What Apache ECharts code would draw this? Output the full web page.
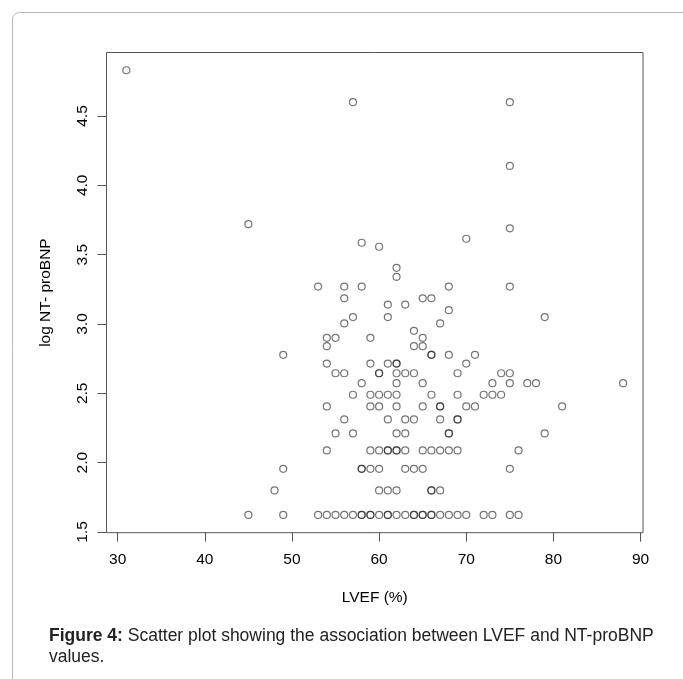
<!DOCTYPE html>
<html>
<head>
<meta charset="utf-8">
<title>LVEF vs NT-proBNP</title>
<script src="https://cdn.jsdelivr.net/npm/echarts@6/dist/echarts.min.js"></script>
<style>
    html, body {margin: 0; padding: 0; background: #fff;}
    #main {width: 683px; height: 679px;}
</style>
</head>
<body>
<div id="main"></div>
<script>
    // LVEF (%) of each patient (top to bottom)
    var lvef = [
        31,
        57, 75,
        75,
        45,
        75,
        70,
        58,
        60,
        62,
        62,
        53, 56, 58, 68, 75,
        56, 65, 66,
        61, 63,
        68,
        57, 61, 79,
        56, 67,
        64,
        54, 55, 59, 65,
        54, 64, 65,
        49, 66, 66, 68, 71,
        54, 59, 61, 62, 62, 70,
        55, 56, 60, 60, 62, 63, 64, 69, 74, 75,
        58, 62, 65, 73, 75, 77, 78, 88,
        57, 59, 60, 61, 62, 66, 69, 72, 73, 74,
        54, 59, 60, 62, 65, 67, 67, 70, 71, 81,
        56, 61, 63, 64, 67, 69, 69,
        55, 57, 62, 63, 68, 68, 79,
        54, 59, 60, 61, 61, 62, 62, 63, 65, 66, 67, 68, 69, 76,
        49, 58, 58, 59, 60, 63, 64, 65, 75,
        48, 60, 61, 62, 66, 66, 67,
        45, 49, 53, 54, 55, 56, 57, 58, 58, 59, 59, 60, 61, 61, 62, 63, 64, 64, 65, 65, 66, 66, 67, 68, 69, 70, 72, 73, 75, 76
    ];
    // log NT-proBNP of the same patients, same order
    var logNtProBnp = [
        4.83,
        4.60, 4.60,
        4.14,
        3.72,
        3.69,
        3.615,
        3.586,
        3.557,
        3.405,
        3.34,
        3.27, 3.27, 3.27, 3.27, 3.27,
        3.185, 3.185, 3.185,
        3.14, 3.14,
        3.10,
        3.05, 3.05, 3.05,
        3.004, 3.004,
        2.951,
        2.90, 2.90, 2.90, 2.90,
        2.84, 2.84, 2.84,
        2.778, 2.778, 2.778, 2.778, 2.778,
        2.715, 2.715, 2.715, 2.715, 2.715, 2.715,
        2.645, 2.645, 2.645, 2.645, 2.645, 2.645, 2.645, 2.645, 2.645, 2.645,
        2.573, 2.573, 2.573, 2.573, 2.573, 2.573, 2.573, 2.573,
        2.49, 2.49, 2.49, 2.49, 2.49, 2.49, 2.49, 2.49, 2.49, 2.49,
        2.406, 2.406, 2.406, 2.406, 2.406, 2.406, 2.406, 2.406, 2.406, 2.406,
        2.312, 2.312, 2.312, 2.312, 2.312, 2.312, 2.312,
        2.211, 2.211, 2.211, 2.211, 2.211, 2.211, 2.211,
        2.088, 2.088, 2.088, 2.088, 2.088, 2.088, 2.088, 2.088, 2.088, 2.088, 2.088, 2.088, 2.088, 2.088,
        1.956, 1.956, 1.956, 1.956, 1.956, 1.956, 1.956, 1.956, 1.956,
        1.80, 1.80, 1.80, 1.80, 1.80, 1.80, 1.80,
        1.623, 1.623, 1.623, 1.623, 1.623, 1.623, 1.623, 1.623, 1.623, 1.623,
        1.623, 1.623, 1.623, 1.623, 1.623, 1.623, 1.623, 1.623, 1.623, 1.623,
        1.623, 1.623, 1.623, 1.623, 1.623, 1.623, 1.623, 1.623, 1.623, 1.623
    ];
    var xTicks = [30, 40, 50, 60, 70, 80, 90];
    var yTicks = [1.5, 2.0, 2.5, 3.0, 3.5, 4.0, 4.5];

    var font = 'Liberation Sans, Arial, Helvetica, sans-serif';

    var chart = echarts.init(document.getElementById('main'));
    chart.setOption({
        animation: false,
        backgroundColor: '#fff',
        graphic: [
            {
                type: 'rect',
                shape: {x: 12.5, y: 12.5, width: 760, height: 760, r: 7},
                style: {fill: 'none', stroke: '#b8b8b8', lineWidth: 1}
            },
            {
                type: 'text',
                left: 49,
                top: 625.5,
                style: {
                    text: '{b|Figure 4:} Scatter plot showing the association between LVEF and NT-proBNP\nvalues.',
                    font: '17.5px ' + font,
                    fill: '#222',
                    lineHeight: 21,
                    rich: {b: {fontWeight: 'bold', fontSize: 17.5, fontFamily: font, fill: '#222'}}
                }
            }
        ],
        grid: {
            left: 106.5, top: 52.5, width: 536.5, height: 480.2,
            show: true, borderColor: '#555', borderWidth: 1, backgroundColor: 'transparent'
        },
        xAxis: {
            type: 'value',
            min: 28.72, max: 90.28,
            name: 'LVEF (%)',
            nameLocation: 'middle',
            nameGap: 57,
            nameTextStyle: {fontFamily: font, fontSize: 15.5, color: '#000'},
            axisLine: {show: false},
            splitLine: {show: false},
            axisTick: {show: true, length: 9, customValues: xTicks, lineStyle: {color: '#555'}},
            axisLabel: {customValues: xTicks, margin: 19, fontFamily: font, fontSize: 15.5, color: '#000'}
        },
        yAxis: {
            type: 'value',
            min: 1.495, max: 4.958,
            name: 'log NT- proBNP',
            nameLocation: 'middle',
            nameGap: 53,
            nameTextStyle: {fontFamily: font, fontSize: 15.5, color: '#000'},
            axisLine: {show: false},
            splitLine: {show: false},
            axisTick: {show: true, length: 9, customValues: yTicks, lineStyle: {color: '#555'}},
            axisLabel: {
                customValues: yTicks, rotate: 90, margin: 16,
                fontFamily: font, fontSize: 15.5, color: '#000',
                formatter: function (v) { return v.toFixed(1); }
            }
        },
        series: [{
            type: 'scatter',
            symbol: 'circle',
            symbolSize: 7,
            silent: true,
            itemStyle: {color: 'rgba(0,0,0,0)', borderColor: 'rgba(25,25,25,0.75)', borderWidth: 1.2},
            data: lvef.map(function (v, i) {
                return [v, logNtProBnp[i]];
            })
        }]
    });
</script>
</body>
</html>
